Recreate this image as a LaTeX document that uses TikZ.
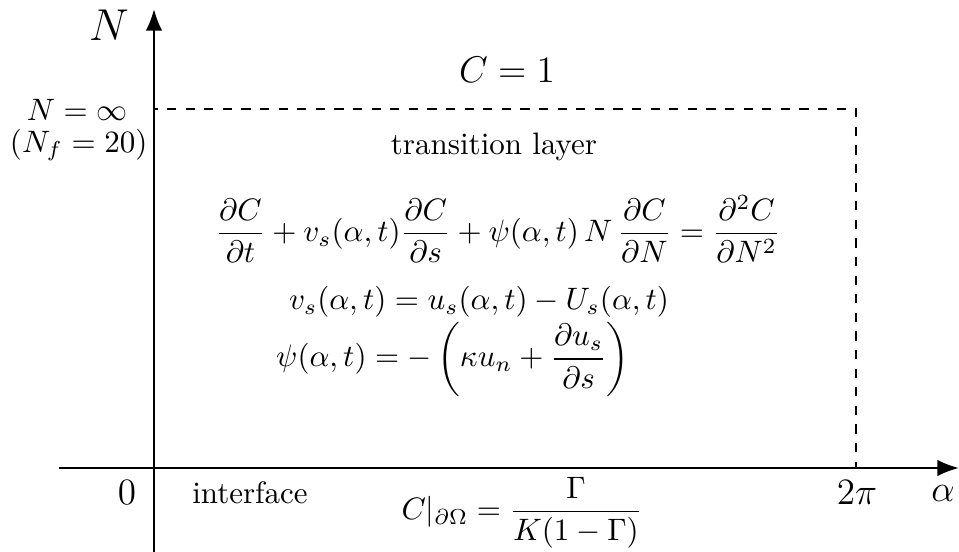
\documentclass[tikz,border=0pt]{standalone}
\usetikzlibrary{arrows.meta}
\begin{document}
\begin{tikzpicture}[x=0.3226pt,y=-0.3226pt,
  axis/.style={line width=0.8pt,-{Latex[length=7pt,width=5.4pt]}},
  frame/.style={dashed,line width=0.4pt},
  lbl/.style={inner sep=0pt}]
\useasboundingbox (0,0) rectangle (959,552);
% nodes/coordinates
\coordinate (O) at (154,468);
\coordinate (Ytop) at (154,9);
\coordinate (Ybot) at (154,552);
\coordinate (Xl) at (59,468);
\coordinate (Xr) at (959,468);
\coordinate (TL) at (154,109);
\coordinate (TR) at (856,109);
\coordinate (BR) at (856,468);
\draw[frame] (O) -- (TL) -- (TR) -- (BR) -- (O);
\draw[axis] (Ybot) -- (Ytop);
\draw[axis] (Xl) -- (Xr);
\node[lbl] (Nl) at (109,25) {\Large $N$};
\node[lbl] (C1) at (507,70) {\large $C=1$};
\node[lbl,anchor=east] (Ninf) at (128,110) {$N=\infty$};
\node[lbl,anchor=east] (Nf) at (148,145) {$(N_f=20)$};
\node[lbl] (tl) at (494,147) {transition layer};
\node[lbl] (eq1) at (498,229) {$\displaystyle \frac{\partial C}{\partial t}+v_s(\alpha,t)\frac{\partial C}{\partial s}+\psi(\alpha,t)\,N\,\frac{\partial C}{\partial N}=\frac{\partial^2 C}{\partial N^2}$};
\node[lbl] (eq2) at (479,302) {$v_s(\alpha,t)=u_s(\alpha,t)-U_s(\alpha,t)$};
\node[lbl] (eq3) at (453,359) {$\displaystyle \psi(\alpha,t)=-\left(\kappa u_n+\frac{\partial u_s}{\partial s}\right)$};
\node[lbl] (zero) at (127,493) {\large $0$};
\node[lbl] (intf) at (250,493) {interface};
\node[lbl] (bc) at (522,513) {$\displaystyle C|_{\partial\Omega}=\frac{\Gamma}{K(1-\Gamma)}$};
\node[lbl] (tpi) at (857,493) {\large $2\pi$};
\node[lbl] (al) at (943,493) {\large $\alpha$};
\end{tikzpicture}
\end{document}
